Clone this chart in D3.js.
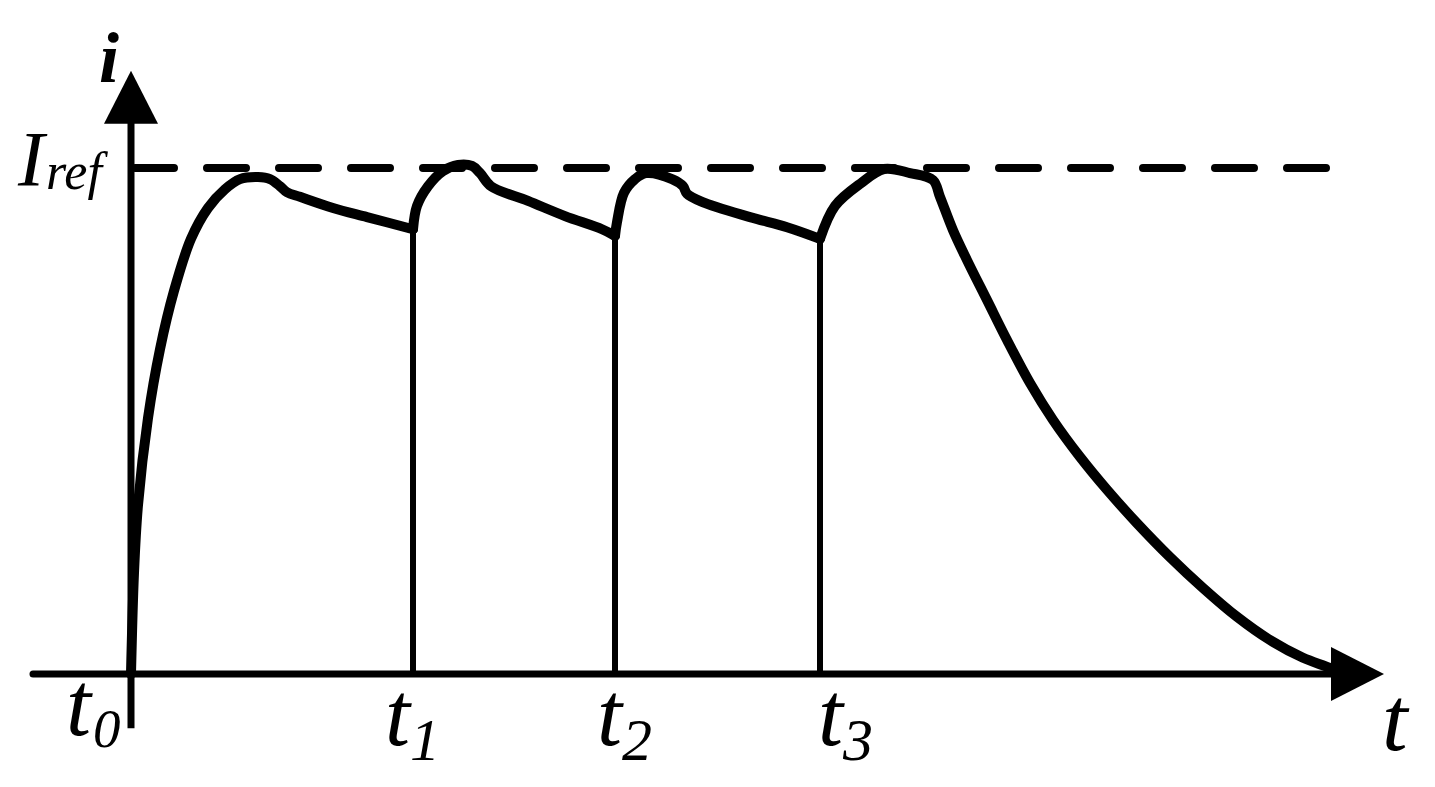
<!DOCTYPE html>
<html>
<head>
<meta charset="utf-8">
<script src="https://cdn.jsdelivr.net/npm/d3@7"></script>
<style>
    body { margin: 0; background: #fff; }
    text { font-family: "Liberation Serif", "Times New Roman", serif; font-style: italic; fill: #000; }
</style>
</head>
<body>
<svg id="canvas"></svg>
<script>
const width = 1435;
const height = 787;

// switching instants (t0 = 0), arbitrary time units
const switchTimes = [0, 28.2, 48.4, 68.9];
const switchSubs = ["0", "1", "2", "3"];
const iRef = 1;

// current waveform, one array per interval: [t, i / Iref]
const seg0 = [[0, 0], [0.3, 0.2], [0.7, 0.334], [1.7, 0.506], [2.9, 0.642], [4.3, 0.757],
    [6.0, 0.86], [7.7, 0.921], [9.4, 0.958], [10.9, 0.978], [12.7, 0.982], [13.9, 0.978],
    [14.9, 0.964], [15.6, 0.952], [16.9, 0.943], [20.2, 0.921], [23.6, 0.903], [28.2, 0.879]]
const seg1 = [[28.2, 0.879], [28.6, 0.925], [29.7, 0.964], [31.2, 0.994], [32.7, 1.006],
    [34.1, 1.004], [34.9, 0.99], [36.0, 0.964], [39.7, 0.935], [43.4, 0.905], [47.1, 0.879], [48.4, 0.866]]
const seg2 = [[48.4, 0.866], [48.6, 0.893], [49.3, 0.951], [50.4, 0.978], [51.5, 0.99],
    [54.1, 0.978], [55.2, 0.964], [55.6, 0.949], [57.1, 0.933], [61.9, 0.903], [65.6, 0.883], [68.9, 0.86]]
const seg3 = [[68.9, 0.86], [70.4, 0.925], [73.0, 0.97], [75.3, 0.998], [77.9, 0.99], [80.2, 0.976],
    [80.9, 0.943], [82.2, 0.877], [83.6, 0.818], [85.6, 0.739], [87.6, 0.66], [89.9, 0.575],
    [92.2, 0.502], [94.9, 0.429], [97.6, 0.364], [100.6, 0.298], [103.9, 0.231], [107.2, 0.17],
    [110.6, 0.113], [113.9, 0.067], [117.2, 0.032], [119.9, 0.012], [120.9, 0.002]]
const segments = [seg0, seg1, seg2, seg3]

// axis extents
const tAxisMin = -9.8, tAxisMax = 125.3
const iAxisMin = -0.107, iAxisMax = 1.192

// label nudges (px) relative to the switching line
const labelDx = [-65, -28, -18, -2]
const labelDy = [61, 71, 71, 71]

const svg = d3.select("#canvas").attr("width", width).attr("height", height)

const x = d3.scaleLinear().domain([0, tAxisMax]).range([131, 1384])
const y = d3.scaleLinear().domain([0, iRef]).range([674, 168])

const arrowLen = 53, arrowHalf = 27

// dashed Iref line
svg.append("line")
    .attr("x1", x(0) + 4).attr("x2", 1330)
    .attr("y1", y(iRef)).attr("y2", y(iRef))
    .attr("stroke", "#000").attr("stroke-width", 8)
    .attr("stroke-dasharray", "39 33").attr("stroke-linecap", "round")

// switching lines
svg.selectAll(".switch")
    .data(switchTimes.slice(1))
    .enter()
    .append("line")
    .attr("class", "switch")
    .attr("x1", d => x(d)).attr("x2", d => x(d))
    .attr("y1", y(0))
    .attr("y2", (d, k) => y(segments[k + 1][0][1]))
    .attr("stroke", "#000").attr("stroke-width", 6)

// axes
svg.append("line")
    .attr("x1", x(tAxisMin)).attr("x2", x(tAxisMax) - arrowLen + 2)
    .attr("y1", y(0)).attr("y2", y(0))
    .attr("stroke", "#000").attr("stroke-width", 7).attr("stroke-linecap", "round")
svg.append("path")
    .attr("d", `M${x(tAxisMax)},${y(0)} L${x(tAxisMax) - arrowLen},${y(0) - arrowHalf} L${x(tAxisMax) - arrowLen},${y(0) + arrowHalf} Z`)
    .attr("fill", "#000")

svg.append("line")
    .attr("x1", x(0)).attr("x2", x(0))
    .attr("y1", y(iAxisMin)).attr("y2", y(iAxisMax) + arrowLen - 2)
    .attr("stroke", "#000").attr("stroke-width", 7)
svg.append("path")
    .attr("d", `M${x(0)},${y(iAxisMax)} L${x(0) - arrowHalf},${y(iAxisMax) + arrowLen} L${x(0) + arrowHalf},${y(iAxisMax) + arrowLen} Z`)
    .attr("fill", "#000")

// current waveform
const line = d3.line()
    .x(d => x(d[0]))
    .y(d => y(d[1]))
    .curve(d3.curveCatmullRom.alpha(0.5))

svg.selectAll(".wave")
    .data(segments)
    .enter()
    .append("path")
    .attr("class", "wave")
    .attr("d", line)
    .attr("fill", "none")
    .attr("stroke", "#000")
    .attr("stroke-width", 10)
    .attr("stroke-linejoin", "round")
    .attr("stroke-linecap", "round")

// labels
svg.append("text")
    .attr("x", 99).attr("y", 82)
    .style("font-weight", "bold").style("font-size", "72px")
    .text("i")

svg.append("text")
    .attr("x", 18).attr("y", 185)
    .style("font-size", "79px")
    .text("I")
svg.append("text")
    .attr("x", 46).attr("y", 189)
    .style("font-size", "52px")
    .text("ref")

svg.selectAll(".tlab")
    .data(switchTimes)
    .enter()
    .append("text")
    .attr("class", "tlab")
    .attr("x", (d, k) => x(d) + labelDx[k])
    .attr("y", (d, k) => y(0) + labelDy[k])
    .style("font-size", "90px")
    .text("t")

svg.selectAll(".tsub")
    .data(switchTimes)
    .enter()
    .append("text")
    .attr("class", "tsub")
    .attr("x", (d, k) => x(d) + labelDx[k] + (k === 0 ? 27 : 25))
    .attr("y", (d, k) => y(0) + labelDy[k] + (k === 0 ? 12 : 15))
    .style("font-size", (d, k) => k === 0 ? "55px" : "60px")
    .text((d, k) => switchSubs[k])

svg.append("text")
    .attr("x", x(tAxisMax) - 2).attr("y", y(0) + 76)
    .style("font-size", "92px")
    .text("t")
</script>
</body>
</html>
